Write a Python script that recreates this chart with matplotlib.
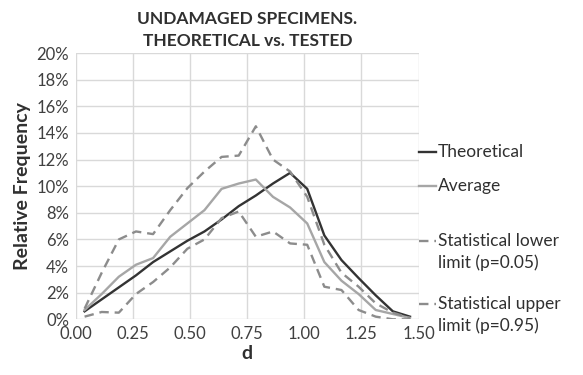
import numpy as np
import matplotlib.pyplot as plt
from matplotlib.lines import Line2D
from matplotlib.ticker import PercentFormatter

plt.rcParams['font.family'] = ['Lato', 'DejaVu Sans']

# bin centres of d
d = [0.0375, 0.1125, 0.1875, 0.2625, 0.3375, 0.4125, 0.4875, 0.5625, 0.6375, 0.7125,
     0.7875, 0.8625, 0.9375, 1.0125, 1.0875, 1.1625, 1.2375, 1.3125, 1.3875, 1.4625]

# relative frequency, %
theoretical = [0.6, 1.5, 2.4, 3.3, 4.3, 5.1, 5.9, 6.6, 7.5, 8.5,
               9.3, 10.2, 11.0, 9.8, 6.3, 4.45, 3.1, 1.8, 0.6, 0.2]
average = [0.7, 1.9, 3.2, 4.1, 4.6, 6.2, 7.2, 8.2, 9.8, 10.2,
           10.5, 9.2, 8.4, 7.2, 4.3, 2.9, 1.9, 0.7, 0.4, 0.1]
lower = [0.2, 0.55, 0.5, 1.9, 2.8, 3.9, 5.3, 6.0, 7.6, 8.1,
         6.2, 6.6, 5.7, 5.6, 2.45, 2.2, 0.7, 0.2, 0.0, 0.0]
upper = [0.8, 3.5, 6.0, 6.6, 6.4, 8.2, 9.85, 11.1, 12.2, 12.3,
         14.5, 12.0, 11.1, 9.2, 5.6, 3.5, 2.45, 1.2, 0.5, 0.1]

xticks = [0.0, 0.25, 0.5, 0.75, 1.0, 1.25, 1.5]
yticks = np.arange(0, 21, 2)

dark = '#333333'
light = '#a6a6a6'
dash = '#8c8c8c'
dashes = (0, (4, 2.5))

fig = plt.figure(figsize=(5.83, 3.75), dpi=100)
ax = fig.add_axes([0.1304, 0.1485, 0.5875, 0.710])

ax.plot(d, theoretical, color=dark, lw=1.7)
ax.plot(d, average, color=light, lw=1.7)
ax.plot(d, lower, color=dash, lw=1.7, ls=dashes)
ax.plot(d, upper, color=dash, lw=1.7, ls=dashes)

ax.set_xlim(0, 1.5)
ax.set_ylim(0, 20)
ax.set_xticks(xticks)
ax.set_yticks(yticks)
ax.xaxis.set_major_formatter(lambda v, p: f'{v:.2f}')
ax.yaxis.set_major_formatter(PercentFormatter(decimals=0))
ax.grid(True, color='#d9d9d9', lw=1)
ax.set_axisbelow(True)
for s in ax.spines.values():
    s.set_visible(False)
ax.tick_params(length=0, labelsize=12, labelcolor='#404040', pad=5)

ax.set_xlabel('d', fontsize=14, fontweight='bold', color='#303030', labelpad=2)
ax.set_ylabel('Relative Frequency', fontsize=14, fontweight='bold', color='#303030', labelpad=4)
ax.set_title('UNDAMAGED SPECIMENS.\nTHEORETICAL vs. TESTED', fontsize=12.5,
             fontweight='bold', color='#303030', linespacing=1.45, pad=5)

# legend entries placed by hand to the right of the plot
entries = [('Theoretical', dark, '-', 152),
           ('Average', light, '-', 186),
           ('Statistical lower\nlimit (p=0.05)', dash, dashes, 252),
           ('Statistical upper\nlimit (p=0.95)', dash, dashes, 315)]
for label, c, ls, ypix in entries:
    yf = 1 - ypix / 375
    first = yf + (11 / 375 if '\n' in label else 0)
    fig.add_artist(Line2D([419 / 583, 436 / 583], [first, first], color=c, lw=1.7,
                          ls=ls, transform=fig.transFigure))
    fig.text(438 / 583, yf, label, fontsize=12.5, color='#303030', va='center',
             linespacing=1.35)

fig.savefig('out.png', dpi=100)
